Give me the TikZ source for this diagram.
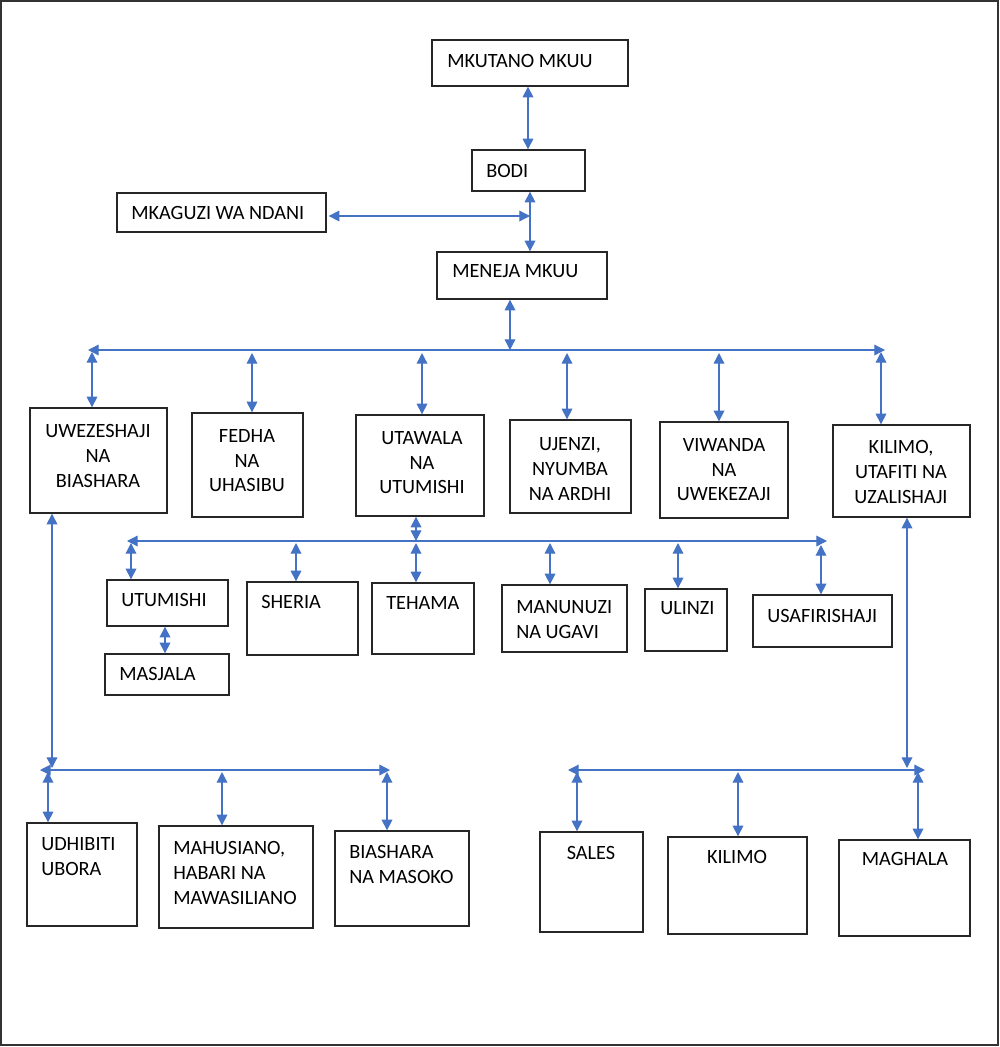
\documentclass[tikz,border=0pt]{standalone}
\usepackage{fontspec}
\setmainfont{Carlito}
\usetikzlibrary{arrows.meta,fit}
\definecolor{arrblue}{HTML}{4472C4}
\begin{document}
\begin{tikzpicture}[x=0.75pt,y=-0.75pt,
  box/.style={draw=black!85, line width=1pt, inner sep=0pt, rectangle},
  txt/.style={inner sep=0pt, font=\fontsize{15.2}{18.4}\selectfont},
  ltxt/.style={txt, anchor=west, align=left},
  ctxt/.style={txt, anchor=center, align=center},
  dar/.style={draw=arrblue, line width=0.95pt,
    {Triangle[length=8pt,width=8pt]}-{Triangle[length=8pt,width=8pt]}}]
\useasboundingbox (0,0) rectangle (1000,1047);
\draw[draw=black!80, line width=1pt] (1,1) rectangle (998,1045);

% --- boxes ---
\node[box, fit={(432,40) (628,86)}] (mk) {};
\node[box, fit={(472,150) (585,191)}] (bodi) {};
\node[box, fit={(117,193) (326,232)}] (mkag) {};
\node[box, fit={(437,252) (607,299)}] (mene) {};

\node[box, fit={(30,408) (167,513)}] (uwe) {};
\node[box, fit={(192,413) (303,517)}] (fed) {};
\node[box, fit={(356,415) (484,516)}] (uta) {};
\node[box, fit={(510,420) (631,513)}] (uje) {};
\node[box, fit={(660,422) (788,518)}] (viw) {};
\node[box, fit={(833,425) (970,517)}] (kil) {};

\node[box, fit={(107,580) (228,626)}] (utu) {};
\node[box, fit={(105,654) (229,695)}] (masj) {};
\node[box, fit={(247,582) (358,655)}] (she) {};
\node[box, fit={(372,583) (474,654)}] (teh) {};
\node[box, fit={(502,585) (627,652)}] (man) {};
\node[box, fit={(645,589) (727,651)}] (uli) {};
\node[box, fit={(753,595) (892,647)}] (usa) {};

\node[box, fit={(27,823) (137,926)}] (udh) {};
\node[box, fit={(159,826) (313,928)}] (mah) {};
\node[box, fit={(335,831) (469,926)}] (bia) {};

\node[box, fit={(540,832) (643,932)}] (sal) {};
\node[box, fit={(668,837) (807,934)}] (kil2) {};
\node[box, fit={(839,840) (970,936)}] (mag) {};

% --- texts ---
\node[ltxt] (tmk) at (447,61) {MKUTANO MKUU};
\node[ltxt] (tbodi) at (486,171) {BODI};
\node[ltxt] (tmkag) at (131,213) {MKAGUZI WA NDANI};
\node[ltxt] (tmene) at (452,271) {MENEJA MKUU};

\node[ctxt] (tuwe) at (98,456) {UWEZESHAJI\\NA\\BIASHARA};
\node[ctxt] (tfed) at (247,461) {FEDHA\\NA\\UHASIBU};
\node[ctxt] (tuta) at (422,463) {UTAWALA\\NA\\UTUMISHI};
\node[ctxt] (tuje) at (570,469) {UJENZI,\\NYUMBA\\NA ARDHI};
\node[ctxt] (tviw) at (724,470) {VIWANDA\\NA\\UWEKEZAJI};
\node[ctxt] (tkil) at (901,472) {KILIMO,\\UTAFITI NA\\UZALISHAJI};

\node[ltxt] (tutu) at (121,600) {UTUMISHI};
\node[ltxt] (tmasj) at (119,674) {MASJALA};
\node[ltxt] (tshe) at (261,602) {SHERIA};
\node[ltxt] (tteh) at (386,603) {TEHAMA};
\node[ltxt] (tman) at (516,619.5) {MANUNUZI\\NA UGAVI};
\node[ltxt] (tuli) at (660,608) {ULINZI};
\node[ltxt] (tusa) at (767,616) {USAFIRISHAJI};

\node[ltxt] (tudh) at (41,856.5) {UDHIBITI\\UBORA};
\node[ltxt] (tmah) at (173,873) {MAHUSIANO,\\HABARI NA\\MAWASILIANO};
\node[ltxt] (tbia) at (349,864.5) {BIASHARA\\NA MASOKO};

\node[ctxt] (tsal) at (591,853) {SALES};
\node[ctxt] (tkil2) at (737,857) {KILIMO};
\node[ctxt] (tmag) at (905,859) {MAGHALA};

% --- top connectors ---
\coordinate (c1) at (528,0);
\coordinate (c2) at (530,0);
\coordinate (h1) at (530,216);
\draw[dar] (c1 |- mk.south) -- (c1 |- bodi.north);
\draw[dar] (c2 |- bodi.south) -- (c2 |- mene.north);
\draw[dar] (mkag.east |- h1) ++(2,0) coordinate (h0) (h0) -- (h1);

% --- first bar ---
\coordinate (b1L) at (88,350);
\coordinate (b1R) at (885,350);
\coordinate (m1) at (510,350);
\draw[dar] (b1L) -- (b1R);
\draw[dar] (m1 |- mene.south) -- (m1);
\coordinate (d1) at (92,352);
\coordinate (d2) at (252,353);
\coordinate (d3) at (422,353);
\coordinate (d4) at (567,353);
\coordinate (d5) at (719,353);
\coordinate (d6) at (881,352);
\draw[dar] (d1) -- (d1 |- uwe.north);
\draw[dar] (d2) -- (d2 |- fed.north);
\draw[dar] (d3) -- (d3 |- uta.north);
\draw[dar] (d4) -- (d4 |- uje.north);
\draw[dar] (d5) -- (d5 |- viw.north);
\draw[dar] (d6) -- (d6 |- kil.north);

% --- second bar ---
\coordinate (b2L) at (127,541);
\coordinate (b2R) at (827,541);
\coordinate (u2) at (416,541);
\draw[dar] (b2L) -- (b2R);
\draw[dar] (u2 |- uta.south) -- (u2);
\coordinate (e1) at (131,543);
\coordinate (e2) at (296,543);
\coordinate (e3) at (416,543);
\coordinate (e4) at (550,543);
\coordinate (e5) at (678,543);
\coordinate (e6) at (821,545);
\draw[dar] (e1) -- (e1 |- utu.north);
\draw[dar] (e2) -- (e2 |- she.north);
\draw[dar] (e3) -- (e3 |- teh.north);
\draw[dar] (e4) -- (e4 |- man.north);
\draw[dar] (e5) -- (e5 |- uli.north);
\draw[dar] (e6) -- (e6 |- usa.north);
\coordinate (um) at (165,0);
\draw[dar] (um |- utu.south) -- (um |- masj.north);

% --- third bar (left) ---
\coordinate (L1) at (52,768);
\draw[dar] (L1 |- uwe.south) -- (L1);
\coordinate (b3L) at (40,770);
\coordinate (b3R) at (390,770);
\draw[dar] (b3L) -- (b3R);
\coordinate (f1) at (48,772);
\coordinate (f2) at (222,772);
\coordinate (f3) at (387,772);
\draw[dar] (f1) -- (f1 |- udh.north);
\draw[dar] (f2) -- (f2 |- mah.north);
\draw[dar] (f3) -- (f3 |- bia.north);

% --- fourth bar (right) ---
\coordinate (R1) at (907,768);
\draw[dar] (R1 |- kil.south) -- (R1);
\coordinate (b4L) at (568,770);
\coordinate (b4R) at (925,770);
\draw[dar] (b4L) -- (b4R);
\coordinate (g1) at (577,772);
\coordinate (g2) at (738,772);
\coordinate (g3) at (918,772);
\draw[dar] (g1) -- (g1 |- sal.north);
\draw[dar] (g2) -- (g2 |- kil2.north);
\draw[dar] (g3) -- (g3 |- mag.north);
\end{tikzpicture}
\end{document}
